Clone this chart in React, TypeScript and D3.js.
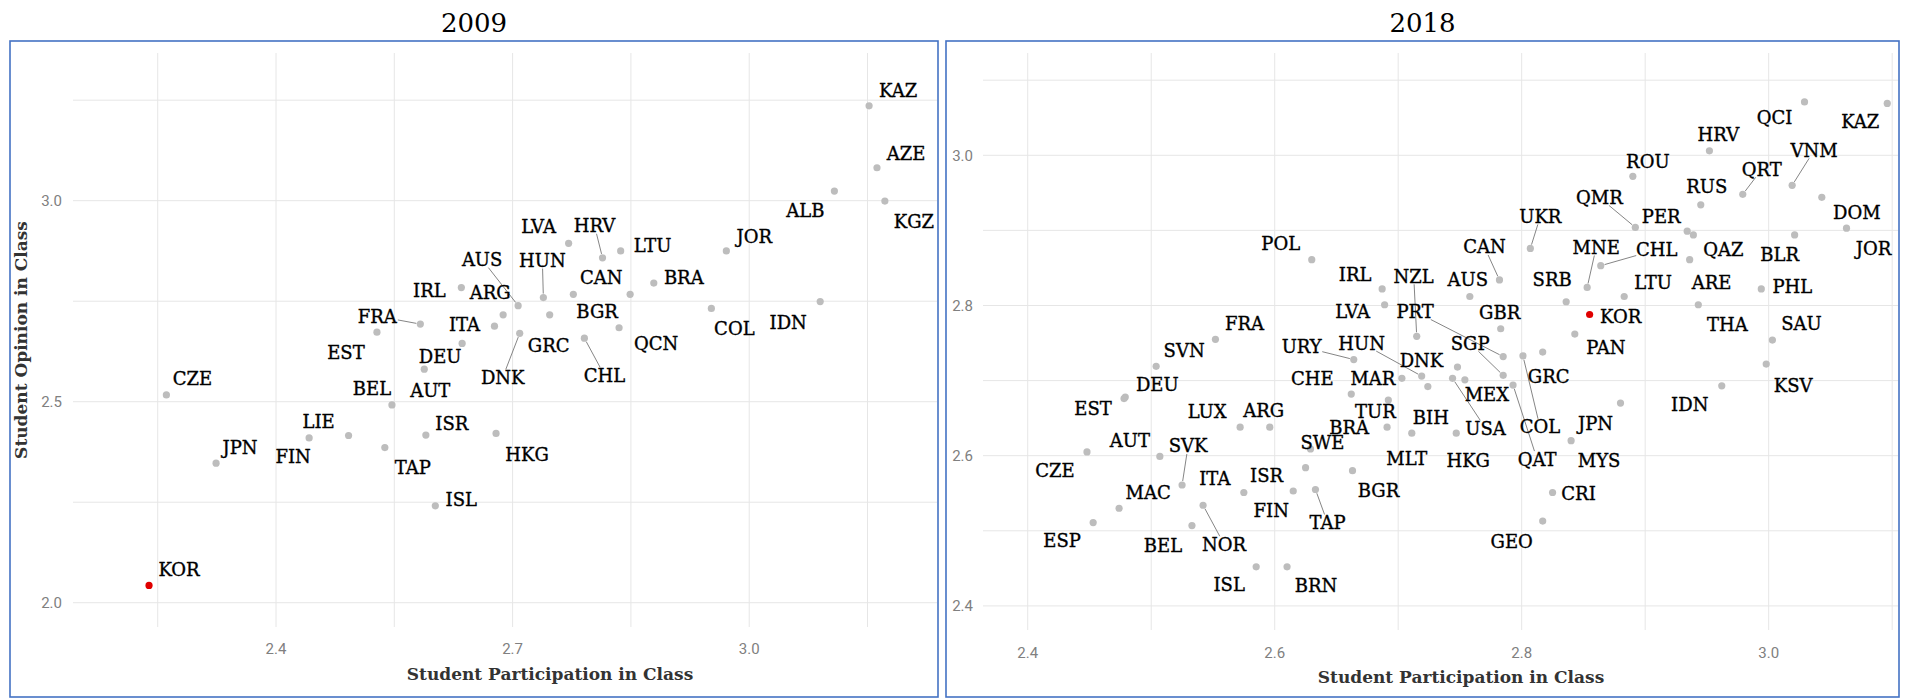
import React from "react";
import * as d3 from "d3";

// ---------- 2009 data ----------
const countries2009 = ["CZE","JPN","KOR","LIE","FIN","ISL","TAP","ISR","BEL","AUT","DEU","EST","FRA","IRL","ITA","AUS","ARG","DNK","GRC","HUN","LVA","HRV","CAN","BGR","QCN","CHL","LTU","BRA","HKG","JOR","COL","IDN","ALB","KAZ","AZE","KGZ"];
const participation2009 = [2.261,2.324,2.239,2.492,2.442,2.602,2.538,2.590,2.547,2.588,2.636,2.528,2.583,2.635,2.677,2.707,2.688,2.709,2.747,2.739,2.771,2.814,2.777,2.849,2.835,2.791,2.837,2.879,2.679,2.971,2.952,3.090,3.108,3.152,3.162,3.172];
const opinion2009 = [2.517,2.347,2.043,2.416,2.410,2.241,2.386,2.417,2.492,2.581,2.645,2.673,2.693,2.784,2.688,2.739,2.716,2.670,2.716,2.759,2.894,2.858,2.767,2.767,2.684,2.658,2.875,2.795,2.421,2.875,2.732,2.749,3.024,3.236,3.082,2.999];
// label nudges (px) – repel layout
const labelDx2009 = [26,24,30,-30,-16,26,28,26,-20,6,-22,-31,-43,-32,-30,-36,-13,-17,-1,-1,-30,-8,28,-33,37,20,32,30,31,28,23,-32,-29,29,29,29];
const labelDy2009 = [-16,-16,-16,-14,19,-6,20,-12,-16,21,13,20,-8,3,-2,-46,-22,44,31,-37,-17,-32,-17,17,16,37,-5,-6,21,-14,20,21,19,-15,-14,20];
const segments2009 = ["FRA","AUS","DNK","HUN","HRV","CHL"];
const xMajor2009 = [2.4, 2.7, 3.0];
const xMinor2009 = [2.25, 2.55, 2.85, 3.15];
const yMajor2009 = [2.0, 2.5, 3.0];
const yMinor2009 = [2.25, 2.75, 3.25];

// ---------- 2018 data ----------
const countries2018 = ["POL","IRL","LVA","NZL","PRT","FRA","SVN","URY","HUN","DNK","DEU","EST","CHE","MAR","LUX","ARG","TUR","BRA","BIH","AUT","SVK","SWE","CZE","ITA","ISR","MAC","FIN","TAP","BGR","MLT","ESP","BEL","NOR","ISL","BRN","HKG","USA","MEX","SGP","GBR","AUS","CAN","UKR","SRB","MNE","CHL","QMR","ROU","PER","HRV","RUS","QCI","QRT","KAZ","VNM","DOM","JOR","QAZ","BLR","PHL","ARE","THA","SAU","KSV","IDN","LTU","KOR","PAN","GRC","COL","QAT","JPN","MYS","CRI","GEO"];
const participation2018 = [2.630,2.687,2.689,2.715,2.785,2.552,2.504,2.664,2.719,2.748,2.479,2.478,2.662,2.703,2.572,2.596,2.692,2.691,2.724,2.507,2.525,2.629,2.448,2.575,2.625,2.474,2.615,2.633,2.663,2.711,2.453,2.533,2.542,2.585,2.610,2.747,2.744,2.754,2.785,2.783,2.758,2.782,2.807,2.836,2.853,2.864,2.892,2.890,2.934,2.952,2.945,3.029,2.979,3.096,3.019,3.043,3.063,2.939,3.021,2.994,2.936,2.943,3.003,2.998,2.962,2.883,2.855,2.843,2.817,2.801,2.793,2.880,2.840,2.825,2.817];
const opinion2018 = [2.861,2.822,2.801,2.759,2.732,2.755,2.719,2.728,2.706,2.718,2.678,2.676,2.682,2.703,2.638,2.638,2.674,2.638,2.692,2.599,2.561,2.609,2.605,2.551,2.584,2.530,2.553,2.555,2.580,2.630,2.511,2.507,2.534,2.452,2.452,2.630,2.703,2.701,2.707,2.769,2.812,2.834,2.876,2.805,2.824,2.853,2.904,2.972,2.899,3.006,2.934,3.071,2.948,3.069,2.960,2.944,2.903,2.894,2.894,2.822,2.861,2.801,2.754,2.722,2.693,2.812,2.788,2.762,2.738,2.733,2.694,2.670,2.620,2.551,2.513];
const labelDx2018 = [-31,-27,-32,-3,-88,29,28,-52,-60,-36,32,-31,-39,-29,-33,-6,-13,-38,3,-30,6,12,-32,-29,-39,29,-22,12,26,-5,-31,-29,21,-27,29,12,33,22,-33,-1,-2,-15,10,-14,9,56,-36,15,-26,9,6,-30,19,-27,22,35,27,30,-15,31,22,29,29,27,-32,29,31,31,6,17,24,-25,28,26,-31];
const labelDy2018 = [-16,-14,7,-60,-45,-16,-16,-13,-33,-7,-13,10,-16,0,-16,-17,11,0,31,-16,-39,-6,19,-14,8,-16,20,33,20,25,18,20,39,18,19,27,50,15,-32,-16,-17,-33,-32,-22,-40,-16,-30,-15,-15,-16,-18,16,-25,18,-35,15,20,15,20,-2,23,20,-17,21,19,-14,2,13,24,71,74,20,20,1,20];
const segments2018 = ["NZL","PRT","URY","HUN","SVK","TAP","NOR","USA","SGP","CAN","UKR","MNE","CHL","QMR","QRT","VNM","COL","QAT"];
const xMajor2018 = [2.4, 2.6, 2.8, 3.0];
const xMinor2018 = [2.5, 2.7, 2.9, 3.1];
const yMajor2018 = [2.4, 2.6, 2.8, 3.0];
const yMinor2018 = [2.5, 2.7, 2.9, 3.1];

const HIGHLIGHT = "KOR";
const fmt = d3.format(".1f");

const LABEL_FONT = "'DejaVu Serif', serif";
const TICK_FONT = "Roboto, 'DejaVu Sans', sans-serif";

type Box = { x0: number; x1: number; y0: number; y1: number };
type PanelProps = {
  title: string;
  names: string[];
  xs: number[];
  ys: number[];
  dxs: number[];
  dys: number[];
  segs: string[];
  xDomain: [number, number];
  yDomain: [number, number];
  xMajor: number[];
  xMinor: number[];
  yMajor: number[];
  yMinor: number[];
  frame: Box;
  plot: Box;
  titleY: number;
  xTitleX: number;
  xTitleY: number;
  xTickY: number;
  yTickX: number;
  yTitle?: boolean;
};

function Panel(p: PanelProps) {
  const x = d3.scaleLinear().domain(p.xDomain).range([p.plot.x0, p.plot.x1]);
  const y = d3.scaleLinear().domain(p.yDomain).range([p.plot.y1, p.plot.y0]);
  const grid = "#e6e6e6";
  const fs = 18;
  const charW = 13;
  return (
    <g>
      <rect x={p.frame.x0} y={p.frame.y0} width={p.frame.x1 - p.frame.x0} height={p.frame.y1 - p.frame.y0}
        fill="#fff" stroke="#4472C4" strokeWidth={1.6} />
      <text x={(p.frame.x0 + p.frame.x1) / 2} y={p.titleY} textAnchor="middle" fontFamily={LABEL_FONT} fontSize={26} fill="#000">{p.title}</text>
      {[...p.xMinor, ...p.xMajor].map((v, i) => (
        <line key={"vx" + i} x1={x(v)} x2={x(v)} y1={p.plot.y0} y2={p.plot.y1} stroke={grid} strokeWidth={1} />
      ))}
      {[...p.yMinor, ...p.yMajor].map((v, i) => (
        <line key={"hy" + i} x1={p.plot.x0} x2={p.plot.x1} y1={y(v)} y2={y(v)} stroke={grid} strokeWidth={1} />
      ))}
      {p.xMajor.map((v, i) => (
        <text key={"xt" + i} x={x(v)} y={p.xTickY} textAnchor="middle" fontFamily={TICK_FONT} fontSize={15} fill="#808080">{fmt(v)}</text>
      ))}
      {p.yMajor.map((v, i) => (
        <text key={"yt" + i} x={p.yTickX} y={y(v)} dy="0.36em" textAnchor="end" fontFamily={TICK_FONT} fontSize={15} fill="#808080">{fmt(v)}</text>
      ))}
      <text x={p.xTitleX} y={p.xTitleY} textAnchor="middle" fontFamily={LABEL_FONT} fontSize={17} fontWeight="bold" fill="#333">Student Participation in Class</text>
      {p.yTitle && (
        <text transform={`translate(21,${(p.plot.y0 + p.plot.y1) / 2}) rotate(-90)`} textAnchor="middle" dy="0.36em"
          fontFamily={LABEL_FONT} fontSize={17} fontWeight="bold" fill="#333">Student Opinion in Class</text>
      )}
      {/* segments: from point toward label centre, clipped at label box */}
      {p.names.map((n, i) => {
        if (!p.segs.includes(n)) return null;
        const px = x(p.xs[i]);
        const py = y(p.ys[i]);
        const lx = px + p.dxs[i];
        const ly = py + p.dys[i];
        const hw = (n.length * charW) / 2 + 1;
        const hh = 8;
        const ddx = px - lx;
        const ddy = py - ly;
        const t = Math.min(ddx === 0 ? Infinity : hw / Math.abs(ddx), ddy === 0 ? Infinity : hh / Math.abs(ddy));
        if (t >= 1) return null;
        const ex = lx + ddx * t;
        const ey = ly + ddy * t;
        const len = Math.hypot(ex - px, ey - py);
        if (len < 6) return null;
        const sx = px + ((ex - px) / len) * 4;
        const sy = py + ((ey - py) / len) * 4;
        return <line key={"s" + i} x1={sx} y1={sy} x2={ex} y2={ey} stroke="#666" strokeWidth={0.8} />;
      })}
      {/* points */}
      {p.names.map((n, i) => (
        <circle key={"c" + i} cx={x(p.xs[i])} cy={y(p.ys[i])} r={3.6}
          fill={n === HIGHLIGHT ? "#e00000" : "#bdbdbd"} />
      ))}
      {/* labels */}
      {p.names.map((n, i) => (
        <text key={"l" + i} x={x(p.xs[i]) + p.dxs[i]} y={y(p.ys[i]) + p.dys[i]} dy="0.36em" textAnchor="middle"
          fontFamily={LABEL_FONT} fontSize={fs} fill="#000" stroke="#000" strokeWidth={0.35}>{n}</text>
      ))}
    </g>
  );
}

export default function App() {
  return (
    <svg width={1907} height={698} style={{ position: "absolute", left: 0, top: 0, background: "#fff" }}>
      <Panel
        title="2009"
        names={countries2009} xs={participation2009} ys={opinion2009}
        dxs={labelDx2009} dys={labelDy2009} segs={segments2009}
        xDomain={[2.1426, 3.2381]} yDomain={[1.9396, 3.3674]}
        xMajor={xMajor2009} xMinor={xMinor2009} yMajor={yMajor2009} yMinor={yMinor2009}
        frame={{ x0: 10, x1: 938, y0: 41, y1: 697 }}
        plot={{ x0: 73, x1: 937, y0: 53, y1: 627 }}
        titleY={32} xTitleX={550} xTitleY={680} xTickY={654} yTickX={62} yTitle
      />
      <Panel
        title="2018"
        names={countries2018} xs={participation2018} ys={opinion2018}
        dxs={labelDx2018} dys={labelDy2018} segs={segments2018}
        xDomain={[2.3638, 3.1047]} yDomain={[2.3679, 3.1362]}
        xMajor={xMajor2018} xMinor={xMinor2018} yMajor={yMajor2018} yMinor={yMinor2018}
        frame={{ x0: 946, x1: 1899, y0: 41, y1: 697 }}
        plot={{ x0: 983, x1: 1898, y0: 53, y1: 630 }}
        titleY={32} xTitleX={1461} xTitleY={683} xTickY={658} yTickX={973}
      />
    </svg>
  );
}
